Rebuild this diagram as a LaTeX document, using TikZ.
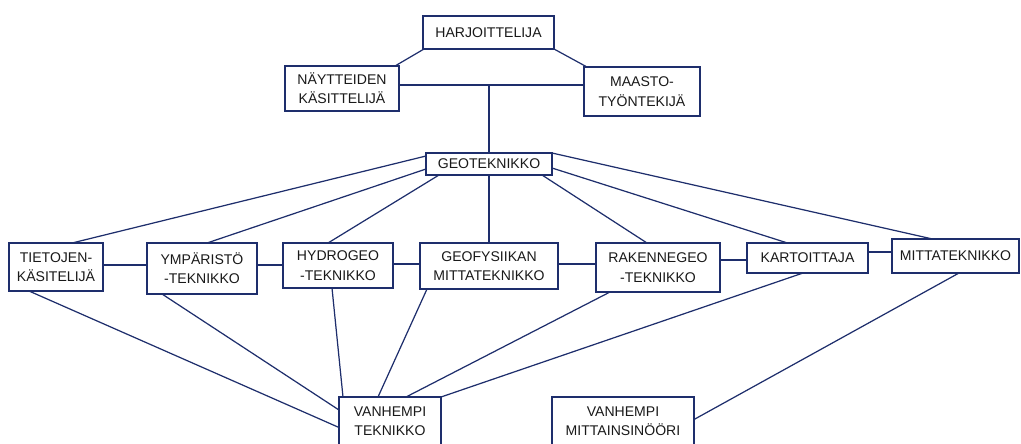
\documentclass[tikz,border=0pt]{standalone}
\usepackage{fontspec}
\setmainfont{Liberation Sans}
\usetikzlibrary{calc}
\newcommand\upx{0.03cm}
\definecolor{navy}{RGB}{30,46,108}
\definecolor{txt}{RGB}{25,25,25}
\tikzset{
  box/.style={draw=navy, line width=2pt, align=center, inner sep=0pt, outer sep=0pt,
    text=txt, font=\fontsize{12}{16.5}\selectfont},
  link/.style={draw=navy, line width=1.05pt},
}
\newcommand\bx[6]{\node[box, minimum width=#4*\upx, minimum height=#5*\upx] (#1) at (#2,#3) {#6};}
\begin{document}
\begin{tikzpicture}[x=0.03cm, y=-0.03cm]
\useasboundingbox (0,0) rectangle (1021,443);
\begin{scope}
\clip (0,0) rectangle (1021,443);
% nodes
\bx{har}{488.5}{32.5}{131}{33}{HARJOITTELIJA}
\bx{nay}{342}{88.5}{114}{45}{NÄYTTEIDEN\\KÄSITTELIJÄ}
\bx{maa}{642}{91.5}{116}{49}{MAASTO-\\TYÖNTEKIJÄ}
\bx{geo}{489}{164}{126}{22}{GEOTEKNIKKO}
\bx{tie}{56}{267}{94}{48}{TIETOJEN-\\KÄSITELIJÄ}
\bx{ymp}{202}{268.5}{110}{51}{YMPÄRISTÖ\\-TEKNIKKO}
\bx{hyd}{338}{265.5}{110}{45}{HYDROGEO\\-TEKNIKKO}
\bx{gfy}{489}{266}{138}{46}{GEOFYSIIKAN\\MITTATEKNIKKO}
\bx{rak}{658}{267.5}{124}{49}{RAKENNEGEO\\-TEKNIKKO}
\bx{kar}{807.5}{258}{121}{30}{KARTOITTAJA}
\bx{mit}{955.5}{256}{127}{34}{MITTATEKNIKKO}
\bx{vte}{390}{421.5}{102}{49}{VANHEMPI\\TEKNIKKO}
\bx{vmi}{623}{421.5}{142}{49}{VANHEMPI\\MITTAINSINÖÖRI}
% top connectors
\draw[link] ($(har.south west)+(1,0)$) -- ($(nay.north east)+(-4,0)$);
\draw[link] (har.south east) -- ($(maa.north west)+(3,0)$);
\coordinate (j) at ($(nay.east)+(90,-3.5)$);
\draw[link] ($(nay.east)+(0,-3.5)$) -- ($(maa.west)+(0,-6.5)$);
\draw[link] (j) -- (j |- geo.north);
% geoteknikko to row
\draw[link] ($(geo.west)+(0,-8)$) -- ($(tie.north)+(16,0)$);
\draw[link] ($(geo.west)+(0,5)$) -- ($(ymp.north)+(5,0)$);
\draw[link] ($(geo.south west)+(13,0)$) -- ($(hyd.north)+(-10,0)$);
\draw[link] (geo.south) -- (gfy.north);
\draw[link] ($(geo.south east)+(-10,0)$) -- ($(rak.north)+(-11,0)$);
\draw[link] ($(geo.east)+(0,4)$) -- ($(kar.north)+(-20,0)$);
\draw[link] (geo.north east) -- ($(mit.north)+(-23,0)$);
% row horizontal links
\draw[link] ($(tie.east)+(0,-2)$) coordinate (a1) -- (a1 -| ymp.west);
\draw[link] ($(ymp.east)+(0,-3.5)$) coordinate (a2) -- (a2 -| hyd.west);
\draw[link] ($(hyd.east)+(0,-1.5)$) coordinate (a3) -- (a3 -| gfy.west);
\draw[link] ($(gfy.east)+(0,-2)$) coordinate (a4) -- (a4 -| rak.west);
\draw[link] ($(rak.east)+(0,-7.5)$) coordinate (a5) -- (a5 -| kar.west);
\draw[link] ($(kar.east)+(0,-6)$) coordinate (a6) -- (a6 -| mit.west);
% to bottom
\draw[link] ($(tie.south west)+(20,0)$) -- ($(vte.west)+(0,6)$);
\draw[link] ($(ymp.south west)+(15,0)$) -- ($(vte.west)+(0,-11.5)$);
\draw[link] ($(hyd.south)+(-6,0)$) -- ($(vte.north west)+(4,0)$);
\draw[link] ($(gfy.south west)+(7,0)$) -- ($(vte.north west)+(39,0)$);
\draw[link] ($(rak.south west)+(14,0)$) -- ($(vte.north west)+(67,0)$);
\draw[link] ($(kar.south)+(-4.5,0)$) -- (vte.north east);
\draw[link] ($(mit.south)+(3.5,0)$) -- ($(vmi.east)+(0,-2)$);
\end{scope}
\end{tikzpicture}
\end{document}
